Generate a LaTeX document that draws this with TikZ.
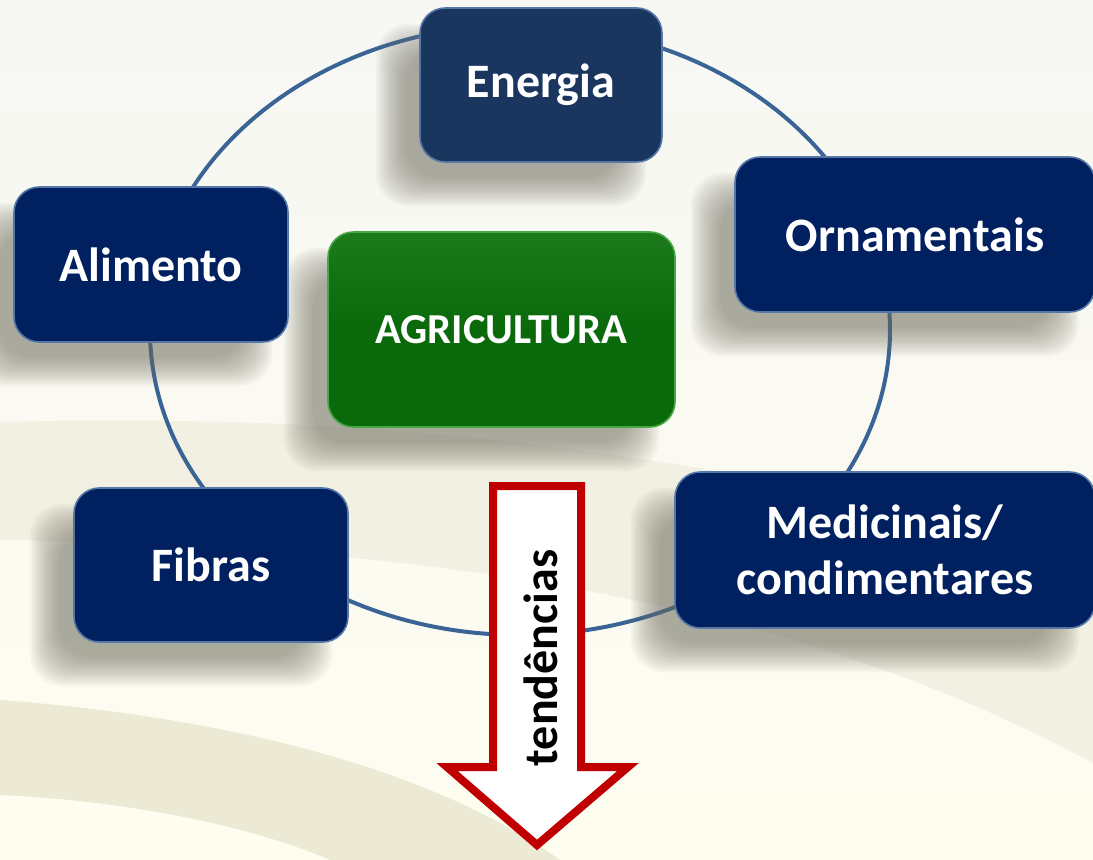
\documentclass[tikz,border=0pt]{standalone}
\usepackage{fontspec}
\setmainfont{Carlito}
\definecolor{navy}{HTML}{002060}
\definecolor{navyE}{HTML}{1A365E}
\definecolor{edgeblue}{HTML}{5477A6}
\definecolor{ringblue}{HTML}{3A6496}
\definecolor{agrigreen}{HTML}{0A690A}
\definecolor{agritop}{HTML}{1C7A1C}
\definecolor{agriedge}{HTML}{45A845}
\definecolor{arrowred}{HTML}{C00000}
\definecolor{bgtop}{HTML}{F7F7F4}
\definecolor{bgbot}{HTML}{FDFDF0}
\definecolor{bandA}{HTML}{F2F0E3}
\definecolor{bandB}{HTML}{ECE9D4}
\definecolor{shadowc}{HTML}{6E6E60}
\newcommand{\myshadow}[4]{%
  \foreach \k in {0,...,13}{%
    \fill[shadowc, opacity=0.055, rounded corners=24pt]
      ({#1-30-#3/2-14+2.2*\k},{#2+30-#4/2-14+2.2*\k}) rectangle
      ({#1-30+#3/2+14-2.2*\k},{#2+30+#4/2+14-2.2*\k});
  }}
\tikzset{
  catbox/.style={rectangle, rounded corners=19pt, fill=navy, draw=edgeblue,
    line width=1.2pt, text=white, align=center, inner sep=0pt,
    font=\bfseries\fontsize{36}{42}\selectfont},
  ring/.style={draw=ringblue, line width=3pt},
}
\begin{document}
\begin{tikzpicture}[x=0.75pt,y=-0.75pt]
\useasboundingbox (0,0) rectangle (1093,860);
% background
\shade[top color=bgtop, bottom color=bgbot] (0,0) rectangle (1093,860);
\fill[bandA] (0,422) .. controls (300,415) and (650,430) .. (1093,560)
  -- (1093,763) .. controls (900,660) and (600,545) .. (0,540) -- cycle;
\fill[bandB] (0,700) .. controls (200,715) and (420,760) .. (560,860)
  -- (330,860) .. controls (250,825) and (120,800) .. (0,795) -- cycle;
% ring
\draw[ring] (520,330) ellipse [x radius=370, y radius=305];
% shadows
\myshadow{541}{85}{242}{154}
\myshadow{915}{234.5}{360}{155}
\myshadow{151}{264.5}{274}{155}
\myshadow{501.5}{329.5}{347}{195}
\myshadow{211}{565}{274}{154}
\myshadow{885}{550}{420}{156}
% boxes
\node[catbox, fill=navyE, minimum width=181.5pt, minimum height=115.5pt] (energia) at (541,85) {Energia};
\node[catbox, minimum width=270pt, minimum height=116.25pt] (ornam) at (915,234.5) {Ornamentais};
\node[catbox, minimum width=205.5pt, minimum height=116.25pt] (alim) at (151,264.5) {Alimento};
\node[catbox, top color=agritop, bottom color=agrigreen, middle color=agrigreen, draw=agriedge,
  minimum width=260.25pt, minimum height=146.25pt,
  font=\bfseries\fontsize{32}{38}\selectfont] (agri) at (501.5,329.5) {AGRICULTURA};
\node[catbox, minimum width=205.5pt, minimum height=115.5pt] (fibras) at (211,565) {Fibras};
\node[catbox, minimum width=315pt, minimum height=117pt] (medic) at (885,550) {Medicinais/\\condimentares};
% arrow
\draw[draw=arrowred, fill=white, line width=6pt, line join=miter, miter limit=10]
  (493,486) -- (581,486) -- (581,767) -- (628,767) -- (537,845) -- (447,767) -- (493,767) -- cycle;
\node[rotate=90, font=\bfseries\fontsize{36}{42}\selectfont, text=black] (tend) at (541,658) {tendências};
\end{tikzpicture}
\end{document}
